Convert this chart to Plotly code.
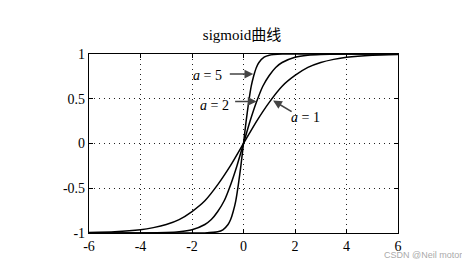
import plotly.graph_objects as go

# values
x_a1 = [-6, -5, -4, -3.5, -3, -2.5, -2, -1.5, -1, -0.5, 0, 0.5, 1, 1.5, 2, 2.5, 3, 3.5, 4, 5, 6]
y_a1 = [-0.995, -0.987, -0.964, -0.94, -0.905, -0.85, -0.76, -0.64, -0.46, -0.245, 0,
        0.245, 0.46, 0.64, 0.76, 0.85, 0.905, 0.94, 0.964, 0.987, 0.995]

x_a2 = [-6, -4, -3, -2.5, -2, -1.5, -1.25, -1, -0.75, -0.5, -0.25, 0,
        0.25, 0.5, 0.75, 1, 1.25, 1.5, 2, 2.5, 3, 4, 6]
y_a2 = [-1.0, -0.999, -0.995, -0.987, -0.964, -0.905, -0.85, -0.76, -0.64, -0.46, -0.245, 0,
        0.245, 0.46, 0.64, 0.76, 0.85, 0.905, 0.964, 0.987, 0.995, 0.999, 1.0]

x_a5 = [-6, -2, -1.5, -1, -0.8, -0.6, -0.5, -0.4, -0.3, -0.2, -0.1, 0,
        0.1, 0.2, 0.3, 0.4, 0.5, 0.6, 0.8, 1, 1.5, 2, 6]
y_a5 = [-1.0, -1.0, -0.999, -0.987, -0.964, -0.905, -0.85, -0.76, -0.64, -0.46, -0.245, 0,
        0.245, 0.46, 0.64, 0.76, 0.85, 0.905, 0.964, 0.987, 0.999, 1.0, 1.0]

x_ticks = [-6, -4, -2, 0, 2, 4, 6]
y_ticks = [-1, -0.5, 0, 0.5, 1]
y_tick_text = ["-1", "-0.5", "0", "0.5", "1"]

title_text = "sigmoid曲线"
labels = ["<i>a</i> = 5", "<i>a</i> = 2", "<i>a</i> = 1"]

SERIF = "'Liberation Serif', 'Times New Roman', 'Noto Sans CJK SC', serif"

fig = go.Figure()
for xs, ys in [(x_a1, y_a1), (x_a2, y_a2), (x_a5, y_a5)]:
    fig.add_trace(go.Scatter(x=xs, y=ys, mode="lines",
                             line=dict(color="black", width=1.5, shape="spline", smoothing=0.6),
                             showlegend=False, hoverinfo="skip"))

axis_common = dict(showline=True, linecolor="black", linewidth=1.2, mirror="ticks",
                   ticks="inside", ticklen=4, tickcolor="black",
                   showgrid=True, gridcolor="#222", gridwidth=1, griddash="1px,4px",
                   zeroline=False, tickfont=dict(family=SERIF, size=14, color="black"))

fig.update_xaxes(range=[-6, 6], tickvals=x_ticks, ticktext=[str(v) for v in x_ticks], **axis_common)
fig.update_yaxes(range=[-1, 1], tickvals=y_ticks, ticktext=y_tick_text, **axis_common)

# arrows (tip at curve, tail offset in pixels)
arrows = [(0.38, 0.776, -25, 0), (0.51, 0.47, -23, 0), (1.15, 0.48, 20, 12)]
for x, y, ax, ay in arrows:
    fig.add_annotation(x=x, y=y, ax=ax, ay=ay, text="", showarrow=True,
                       arrowhead=2, arrowsize=1.1, arrowwidth=1.6, arrowcolor="#444")

label_pos = [(-1.39, 0.765), (-1.14, 0.43), (2.4, 0.29)]
for (x, y), t in zip(label_pos, labels):
    fig.add_annotation(x=x, y=y, text=t, showarrow=False,
                       font=dict(family=SERIF, size=14, color="black"))

fig.add_annotation(xref="paper", yref="paper", x=1.0, y=0, xanchor="left", yanchor="top",
                   xshift=-16, yshift=-15, text="CSDN @Neil motor", showarrow=False,
                   font=dict(family="Liberation Sans, Arial, sans-serif", size=9, color="#aaaaaa"))

fig.update_layout(
    width=462, height=266,
    margin=dict(l=89, r=64, t=54, b=31),
    paper_bgcolor="white", plot_bgcolor="white",
    title=dict(text=title_text, x=242 / 462, xanchor="center", y=1 - 35 / 266, yanchor="middle",
               font=dict(family=SERIF, size=15, color="black")),
)

fig.write_html("out.html")
